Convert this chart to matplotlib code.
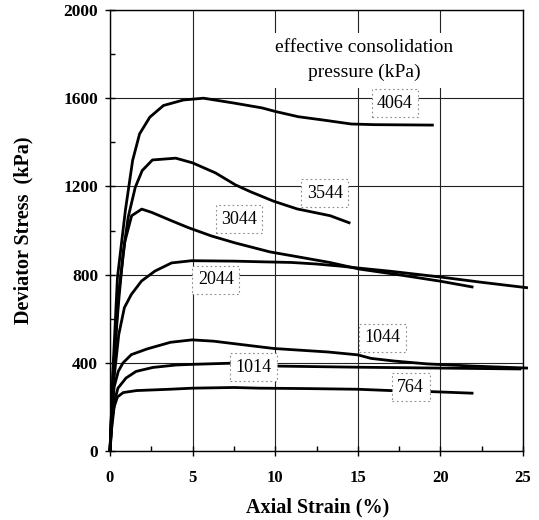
import matplotlib
matplotlib.use('Agg')
import matplotlib.pyplot as plt
from matplotlib.ticker import MultipleLocator, FixedLocator

plt.rcParams['font.family'] = ['Liberation Serif', 'DejaVu Serif']

# ---- data ----
pressures = ['4064', '3544', '3044', '2044', '1044', '1014', '764']

strain_4064 = [0, 0.2, 0.45, 0.93, 1.37, 1.79, 2.41, 3.24, 4.45, 5.66, 7.5, 9.2, 10.0, 11.4, 13.0, 14.6, 16.0, 19.6]
stress_4064 = [0, 400, 786, 1091, 1318, 1438, 1514, 1567, 1592, 1600, 1578, 1556, 1540, 1516, 1500, 1483, 1480, 1478]

strain_3544 = [0, 0.2, 0.55, 0.8, 1.10, 1.53, 1.95, 2.57, 3.98, 4.99, 6.39, 7.59, 8.5, 9.9, 11.32, 13.33, 14.55]
stress_3544 = [0, 380, 700, 900, 1060, 1196, 1272, 1320, 1328, 1307, 1261, 1207, 1176, 1133, 1098, 1067, 1033]

strain_3044 = [0, 0.2, 0.5, 0.9, 1.31, 1.92, 2.53, 3.73, 4.74, 6.15, 7.56, 9.68, 11.5, 13.3, 15.1, 17.5, 20.0, 22.0]
stress_3044 = [0, 350, 700, 950, 1067, 1097, 1082, 1044, 1013, 975, 944, 903, 879, 855, 825, 799, 770, 743]

strain_2044 = [0, 0.2, 0.53, 0.87, 1.29, 1.91, 2.72, 3.73, 4.94, 7.55, 9.2, 11.0, 12.5, 14.0, 15.0, 17.0, 20.0, 22.5, 25.3]
stress_2044 = [0, 300, 528, 650, 710, 771, 816, 853, 863, 861, 858, 855, 848, 838, 830, 815, 789, 765, 740]

strain_1044 = [0, 0.1, 0.25, 0.5, 0.78, 1.29, 2.25, 3.66, 4.97, 6.28, 7.7, 9.9, 13.2, 15.0, 15.8, 17.2, 19.2, 22.0, 25.3]
stress_1044 = [0, 150, 290, 361, 399, 437, 463, 493, 504, 498, 485, 465, 449, 436, 420, 408, 395, 385, 376]

strain_1014 = [0, 0.1, 0.25, 0.48, 0.97, 1.58, 2.6, 4.0, 5.0, 7.25, 10.2, 15.0, 20.0, 24.9]
stress_1014 = [0, 120, 220, 285, 331, 361, 379, 390, 393, 398, 385, 380, 376, 372]

strain_764 = [0, 0.1, 0.25, 0.45, 0.8, 1.6, 3.6, 5.0, 7.5, 9.0, 12.0, 15.0, 17.0, 19.2, 22.0]
stress_764 = [0, 100, 200, 245, 265, 274, 280, 285, 288, 285, 283, 280, 274, 270, 262]

label_x = [17.25, 13.0, 7.8, 6.4, 16.5, 8.7, 18.2]
label_y = [1578, 1170, 1052, 776, 513, 380, 289]

x_ticks = [0, 5, 10, 15, 20, 25]
y_ticks = [0, 400, 800, 1200, 1600, 2000]

curves = [
    (strain_4064, stress_4064),
    (strain_3544, stress_3544),
    (strain_3044, stress_3044),
    (strain_2044, stress_2044),
    (strain_1044, stress_1044),
    (strain_1014, stress_1014),
    (strain_764, stress_764),
]

# ---- figure ----
fig = plt.figure(figsize=(5.39, 5.20), dpi=100)
ax = fig.add_axes([110 / 539, 1 - 451 / 520, 413 / 539, 441 / 520])

for xs, ys in curves:
    ax.plot(xs, ys, color='black', lw=2.0, solid_capstyle='butt', zorder=3, clip_on=False)

ax.set_xlim(0, 25)
ax.set_ylim(0, 2000)
ax.xaxis.set_major_locator(FixedLocator(x_ticks))
ax.yaxis.set_major_locator(FixedLocator(y_ticks))
ax.xaxis.set_minor_locator(MultipleLocator(2.5))
ax.yaxis.set_minor_locator(MultipleLocator(200))
ax.set_xticklabels([str(t) for t in x_ticks])
ax.set_yticklabels([str(t) for t in y_ticks])

ax.grid(True, which='major', color='#222222', lw=0.8, zorder=1)
ax.set_axisbelow(True)

ax.tick_params(axis='both', which='major', direction='inout', length=7, width=1.0,
               color='black', labelsize=12)
ax.tick_params(axis='x', which='major', pad=10)
ax.tick_params(axis='y', which='major', pad=5, labelsize=12.5)
ax.tick_params(axis='both', which='minor', direction='in', length=3.5, width=1.0, color='black')
for lab in ax.get_xticklabels() + ax.get_yticklabels():
    lab.set_fontweight('bold')

for sp in ax.spines.values():
    sp.set_linewidth(1.0)
    sp.set_color('black')

# curve labels
for name, lx, ly in zip(pressures, label_x, label_y):
    ax.text(lx, ly, name, ha='center', va='center', fontsize=13, zorder=6,
            bbox=dict(boxstyle='square,pad=0.3', fc='white', ec='#8a8a8a',
                      ls=(0, (1.5, 2.5)), lw=0.8))

# legend title text
ax.text(15.4, 1772, 'effective consolidation\npressure (kPa)', ha='center', va='center',
        fontsize=14, linespacing=1.58, zorder=6,
        bbox=dict(boxstyle='square,pad=0.35', fc='white', ec='none'))

fig.text(23 / 539, 1 - 230 / 520, 'Deviator Stress  (kPa)', rotation=90, ha='center', va='center',
         fontsize=14.5, fontweight='bold')
fig.text(318 / 539, 1 - 507 / 520, 'Axial Strain (%)', ha='center', va='center',
         fontsize=14.5, fontweight='bold')

fig.savefig('out.png', dpi=100, facecolor='white')
